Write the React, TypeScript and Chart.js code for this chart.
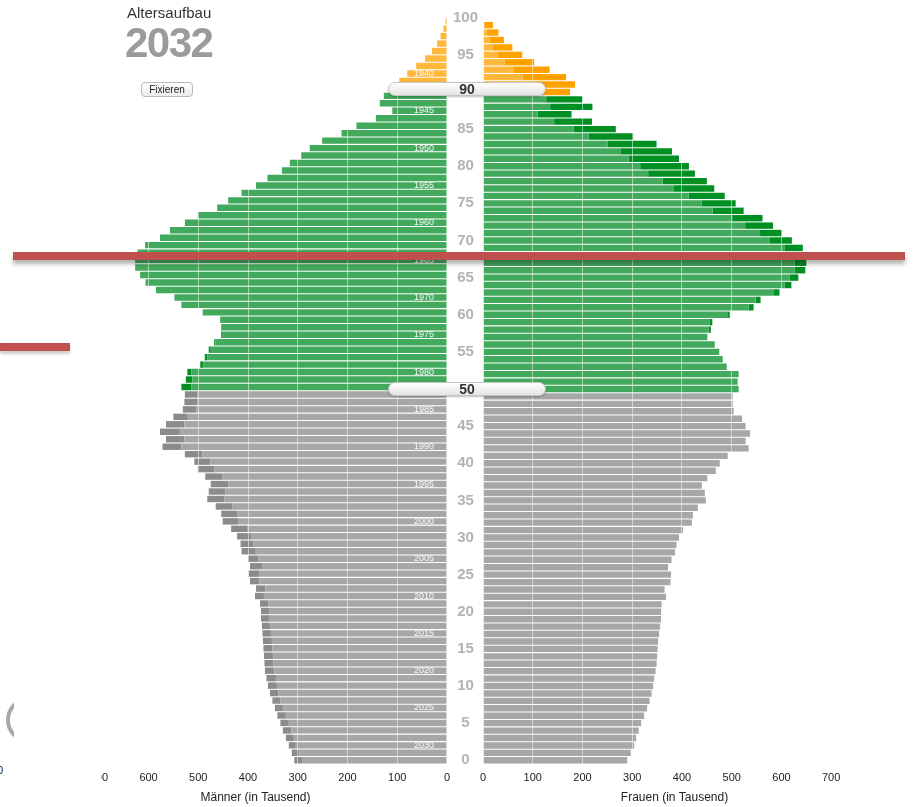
import React, { useEffect, useRef } from 'react';
import { Chart, registerables } from 'chart.js';

Chart.register(...registerables);

const FONT = "'Liberation Sans', Arial, Helvetica, sans-serif";

// Categories: age in years, 0 .. 100
const ageCategories: string[] = Array.from({ length: 101 }, (_, i) => String(i));

// Population 2032 in thousands, index = age
const maleThousands = [
  307, 312, 318, 324, 330, 335, 341, 346, 351, 356,
  360, 363, 366, 367, 368, 369, 370, 371, 372, 374,
  374, 376, 386, 384, 396, 399, 396, 400, 413, 415,
  422, 434, 451, 454, 465, 482, 479, 475, 486, 501,
  508, 527, 572, 565, 577, 565, 550, 531, 528, 527,
  534, 525, 522, 496, 487, 479, 468, 454, 454, 456,
  491, 534, 548, 585, 606, 617, 627, 627, 622, 607,
  577, 557, 527, 501, 462, 440, 413, 384, 361, 332,
  316, 293, 276, 251, 212, 182, 143, 110, 135, 127,
  110, 96, 80, 62, 44, 30, 20, 13, 7, 3,
  0,
];

const femaleThousands = [
  290, 297, 304, 308, 313, 318, 324, 330, 335, 339,
  342, 344, 347, 349, 350, 351, 352, 354, 356, 358,
  358, 359, 368, 365, 377, 378, 372, 379, 386, 389,
  394, 402, 420, 422, 432, 448, 446, 440, 451, 468,
  476, 492, 534, 528, 537, 528, 521, 504, 502, 502,
  514, 512, 514, 490, 482, 475, 466, 451, 458, 461,
  496, 544, 558, 596, 620, 634, 648, 650, 653, 643,
  621, 601, 583, 562, 524, 508, 486, 465, 450, 426,
  414, 394, 380, 349, 302, 267, 219, 178, 220, 200,
  175, 185, 167, 134, 103, 79, 59, 42, 31, 20,
  0,
];

const birthYearLabels = [
  '1940', '1945', '1950', '1955', '1960', '1965', '1970', '1975', '1980', '1985',
  '1990', '1995', '2000', '2005', '2010', '2015', '2020', '2025', '2030',
];

const snapshotYear = 2032;
const xAxisMax = 770;
const xTickStep = 100;
const sliderAges = ['90', '50'];

function groupColor(age: number, dark: boolean): string {
  if (age >= 90) return dark ? '#ffa200' : '#ffb83c';
  if (age >= 50) return dark ? '#008f22' : '#43a95c';
  return dark ? '#8b8b8b' : '#a7a7a7';
}

const lightColors = ageCategories.map((a) => groupColor(Number(a), false));
const darkColors = ageCategories.map((a) => groupColor(Number(a), true));

const baseValues = maleThousands.map((m, i) => Math.min(m, femaleThousands[i]));
const maleExcess = maleThousands.map((m, i) => Math.max(0, m - femaleThousands[i]));
const femaleExcess = femaleThousands.map((f, i) => Math.max(0, f - maleThousands[i]));

const yearLabelPlugin = {
  id: 'yearLabels',
  afterDatasetsDraw(chart: any) {
    const { ctx, chartArea } = chart;
    const y = chart.scales.y;
    ctx.save();
    ctx.font = `9px ${FONT}`;
    ctx.fillStyle = 'rgba(255,255,255,0.95)';
    ctx.textAlign = 'center';
    ctx.textBaseline = 'middle';
    birthYearLabels.forEach((label) => {
      const age = snapshotYear - Number(label);
      ctx.fillText(label, chartArea.right - 23, y.getPixelForValue(age));
    });
    ctx.restore();
  },
};

function xScale(reverse: boolean, title: string) {
  return {
    type: 'linear',
    min: 0,
    max: xAxisMax,
    reverse,
    stacked: true,
    position: 'bottom',
    grid: { color: 'rgba(255,255,255,0.5)', drawTicks: false, lineWidth: 1, z: 1 },
    border: { display: false },
    ticks: {
      stepSize: xTickStep,
      includeBounds: false,
      padding: 7,
      color: '#222',
      font: { family: FONT, size: 11 },
    },
    title: {
      display: true,
      text: title,
      color: '#222',
      font: { family: FONT, size: 12 },
      padding: 0,
    },
    afterFit(scale: any) {
      scale.height = 41;
    },
  };
}

function makeDatasets(excess: number[]) {
  return [
    {
      data: baseValues,
      backgroundColor: lightColors,
      borderWidth: 0,
      barPercentage: 0.86,
      categoryPercentage: 1,
    },
    {
      data: excess,
      backgroundColor: darkColors,
      borderWidth: 0,
      barPercentage: 0.86,
      categoryPercentage: 1,
    },
  ];
}

export default function App() {
  const leftRef = useRef<HTMLCanvasElement>(null);
  const rightRef = useRef<HTMLCanvasElement>(null);

  useEffect(() => {
    const left = new Chart(leftRef.current as HTMLCanvasElement, {
      type: 'bar',
      data: { labels: ageCategories, datasets: makeDatasets(maleExcess) as any },
      options: {
        indexAxis: 'y',
        animation: false,
        responsive: false,
        devicePixelRatio: 1,
        layout: { padding: { left: 4, right: 12, top: 10, bottom: 2 } },
        plugins: { legend: { display: false }, tooltip: { enabled: false } },
        scales: {
          x: xScale(true, 'Männer (in Tausend)') as any,
          y: { stacked: true, reverse: true, display: false },
        },
      },
      plugins: [yearLabelPlugin],
    });

    const right = new Chart(rightRef.current as HTMLCanvasElement, {
      type: 'bar',
      data: { labels: ageCategories, datasets: makeDatasets(femaleExcess) as any },
      options: {
        indexAxis: 'y',
        animation: false,
        responsive: false,
        devicePixelRatio: 1,
        layout: { padding: { left: 0, right: 12, top: 10, bottom: 2 } },
        plugins: { legend: { display: false }, tooltip: { enabled: false } },
        scales: {
          x: xScale(false, 'Frauen (in Tausend)') as any,
          y: {
            stacked: true,
            reverse: true,
            position: 'left',
            grid: { display: false, drawTicks: false },
            border: { display: false },
            ticks: {
              autoSkip: false,
              crossAlign: 'center',
              padding: 5,
              color: '#b3b3b3',
              font: { family: FONT, size: 15, weight: 'bold' },
              callback: function (this: any, value: any) {
                const lab = this.getLabelForValue(value);
                return Number(lab) % 5 === 0 ? lab : '';
              },
            },
            afterFit(scale: any) {
              scale.width = 36;
            },
          } as any,
        },
      },
    });

    return () => {
      left.destroy();
      right.destroy();
    };
  }, []);

  const sliderStyle = (top: number): React.CSSProperties => ({
    position: 'absolute',
    left: 388,
    top,
    width: 156,
    height: 12,
    border: '1px solid #c4c4c4',
    borderRadius: 7,
    background: 'linear-gradient(#ffffff, #e4e4e4)',
    boxShadow: '0 1px 2px rgba(0,0,0,0.25)',
    fontFamily: FONT,
    fontWeight: 'bold',
    fontSize: 14,
    lineHeight: '12px',
    color: '#333',
    textAlign: 'center',
  });

  return (
    <div
      style={{
        position: 'absolute',
        left: 0,
        top: 0,
        width: 913,
        height: 807,
        overflow: 'hidden',
        background: '#fff',
        fontFamily: FONT,
      }}
    >
      <div
        style={{
          position: 'absolute',
          left: 101,
          top: 0,
          width: 358,
          height: 807,
          overflow: 'hidden',
        }}
      >
        <canvas
          ref={leftRef}
          width={399}
          height={807}
          style={{ position: 'absolute', left: -41, top: 0, width: 399, height: 807 }}
        />
      </div>
      <canvas
        ref={rightRef}
        width={431}
        height={807}
        style={{ position: 'absolute', left: 447, top: 0, width: 431, height: 807 }}
      />

      <div style={{ position: 'absolute', left: 127, top: 4, fontSize: 15, lineHeight: '17px', color: '#333' }}>
        Altersaufbau
      </div>
      <div
        style={{
          position: 'absolute',
          left: 125,
          top: 22,
          fontSize: 42,
          lineHeight: '42px',
          fontWeight: 'bold',
          letterSpacing: -1.5,
          color: '#9b9b9b',
        }}
      >
        {snapshotYear}
      </div>
      <button
        style={{
          position: 'absolute',
          left: 141,
          top: 82,
          width: 52,
          height: 15,
          padding: 0,
          fontSize: 10,
          lineHeight: '13px',
          fontFamily: FONT,
          color: '#222',
          background: 'linear-gradient(#ffffff, #ececec)',
          border: '1px solid #b8b8b8',
          borderRadius: 4,
        }}
      >
        Fixieren
      </button>

      <div style={sliderStyle(82)}>{sliderAges[0]}</div>
      <div style={sliderStyle(382)}>{sliderAges[1]}</div>

      <div
        style={{
          position: 'absolute',
          left: 13,
          top: 252,
          width: 892,
          height: 8,
          background: '#c0504d',
          boxShadow: '0 4px 4px rgba(0,0,0,0.3)',
        }}
      />
      <div
        style={{
          position: 'absolute',
          left: 0,
          top: 343,
          width: 70,
          height: 8,
          background: '#c0504d',
          boxShadow: '0 3px 3px rgba(0,0,0,0.2)',
        }}
      />

      <div style={{ position: 'absolute', left: 0, top: 690, width: 14, height: 60, overflow: 'hidden' }}>
        <div
          style={{
            position: 'absolute',
            left: 6,
            top: 7,
            width: 38,
            height: 38,
            borderRadius: '50%',
            border: '4px solid #a8a8a8',
          }}
        />
      </div>
      <div style={{ position: 'absolute', left: -3, top: 764, fontSize: 11, color: '#222' }}>0</div>
    </div>
  );
}
